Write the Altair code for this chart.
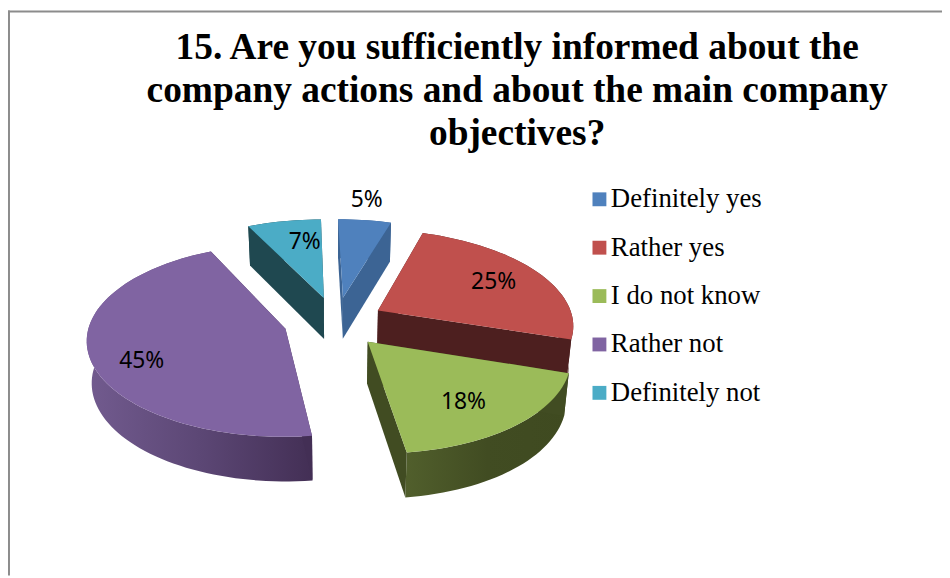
import math
import altair as alt

TITLE = ["15. Are you sufficiently informed about the",
         "company actions and about the main company",
         "objectives?"]
LABELS = ["Definitely yes", "Rather yes", "I do not know", "Rather not", "Definitely not"]
VALUES = [5, 25, 18, 45, 7]
TOPS = ["#4f81bd", "#c0504d", "#9bbb59", "#8064a2", "#4bacc6"]
WALLS = ["#3c6494", "#4d1f1f", "#414c22", "#432f55", "#1f4850"]
RIM_GRADIENTS = {2: ["#515f2c", "#414c22", "#3f4a20"], 3: ["#725b8f", "#5c4775", "#432f55"]}
PAINT_ORDER = [4, 0, 1, 3, 2]
# label placement per slice: angle on the pie (degrees) and radius fraction
LABEL_ANGLE = [8, 63, 144, 245, 352]
LABEL_RADIUS = [1.3, 0.72, 0.71, 0.77, 0.7]
NUDGE_X = [0, -4, -4, 0, 0]

# 3-D pie projection (chart pixels)
CX, CY, RX, RY, PERSP, EXPLODE, SHRINK, VANISH = 331, 314, 197, 94, 0.12, 0.27, 0.98, 40


def project(U, W, nudge=0):
    s = 1 / (1 - PERSP * W)
    return CX + RX * U * s + VANISH * (s - 1) + nudge, CY + RY * W * s, s


def bottom(x, y, s):
    return CX + (x - CX) * SHRINK, y + 22 + 20 * s


def polar(a_deg, r, mid, nudge=0):
    a, m = math.radians(a_deg), math.radians(mid)
    return project(r * math.sin(a) + EXPLODE * math.sin(m), -r * math.cos(a) - EXPLODE * math.cos(m), nudge)


def feature(points, cat):
    ring = [[round(x, 2), round(y, 2)] for x, y in points]
    ring.append(ring[0])
    return {"type": "Feature", "properties": {"cat": cat},
            "geometry": {"type": "Polygon", "coordinates": [ring]}}


def geo(feat, **mark):
    return alt.Chart(alt.Data(values=[feat])).mark_geoshape(strokeWidth=0, **mark).project(
        type="identity", scale=1, translate=[0, 0])


color_scale = alt.Scale(domain=LABELS, range=TOPS)
legend = alt.Legend(title=None, orient="none", legendX=581, legendY=177,
                    symbolType="M-1.25,-1.75H2.25V1.75H-1.25Z",
                    symbolSize=64, symbolStrokeWidth=0, labelFont="Liberation Serif",
                    labelFontSize=27, labelColor="#000000", labelOffset=0, rowPadding=20.8, labelLimit=300)

total = sum(VALUES)
starts, acc = [], 0
for v in VALUES:
    starts.append(acc / total * 360)
    acc += v

layers = []
frame = alt.Chart(alt.Data(values=[{"a": 1}]))
layers.append(frame.mark_rule(color="#8c8c8c", strokeWidth=2).encode(x=alt.value(1), y=alt.value(0), y2=alt.value(570)))
layers.append(frame.mark_rule(color="#8c8c8c", strokeWidth=2).encode(x=alt.value(0), x2=alt.value(942), y=alt.value(1)))

for i in PAINT_ORDER:
    a0 = starts[i]
    a1 = a0 + VALUES[i] / total * 360
    mid = (a0 + a1) / 2
    n = NUDGE_X[i]
    steps = max(2, int((a1 - a0) / 2))
    arc = [polar(a0 + (a1 - a0) * k / steps, 1, mid, n) for k in range(steps + 1)]
    apex = polar(0, 0, mid, n)
    apex_xy = apex[:2]
    apex_b = bottom(*apex)
    # rim
    rim = [p[:2] for p in arc] + [bottom(*p) for p in reversed(arc)]
    if i in RIM_GRADIENTS:
        cols = RIM_GRADIENTS[i]
        fill = alt.LinearGradient(gradient="linear", x1=0, y1=0, x2=1, y2=0,
                                  stops=[alt.GradientStop(color=c, offset=k / (len(cols) - 1)) for k, c in enumerate(cols)])
    else:
        fill = WALLS[i]
    layers.append(geo(feature(rim, LABELS[i]), fill=fill))
    # radial walls
    for p in (arc[0], arc[-1]):
        wall = [apex_xy, p[:2], bottom(*p), apex_b]
        layers.append(geo(feature(wall, LABELS[i]), fill=WALLS[i]))
    # top face
    top = [apex_xy] + [p[:2] for p in arc]
    layers.append(geo(feature(top, LABELS[i])).encode(
        color=alt.Color("properties.cat:N", scale=color_scale, legend=legend)))

label_rows = []
for i, (v, ang, r) in enumerate(zip(VALUES, LABEL_ANGLE, LABEL_RADIUS)):
    mid = starts[i] + v / total * 180
    x, y, _ = polar(ang, r, mid, NUDGE_X[i])
    label_rows.append({"text": f"{v}%", "px": round(x, 1), "py": round(y, 1)})

layers.append(alt.Chart(alt.Data(values=label_rows)).mark_text(
    font="Noto Sans", fontSize=23, color="#000000", align="center", baseline="middle").encode(
    x=alt.X("px:Q", scale=None), y=alt.Y("py:Q", scale=None), text="text:N"))

chart = alt.layer(*layers).properties(
    width=942, height=570, padding=0, autosize=alt.AutoSizeParams(type="none"),
    title=alt.TitleParams(text=TITLE, anchor="start", frame="group", font="Liberation Serif", fontSize=37.7,
                          fontWeight="bold", color="#000000", lineHeight=43, align="center",
                          baseline="top", dx=513.5, dy=144, offset=0),
).configure_view(strokeWidth=0)

chart.save("out.html", embed_options={"renderer": "svg", "actions": False})
